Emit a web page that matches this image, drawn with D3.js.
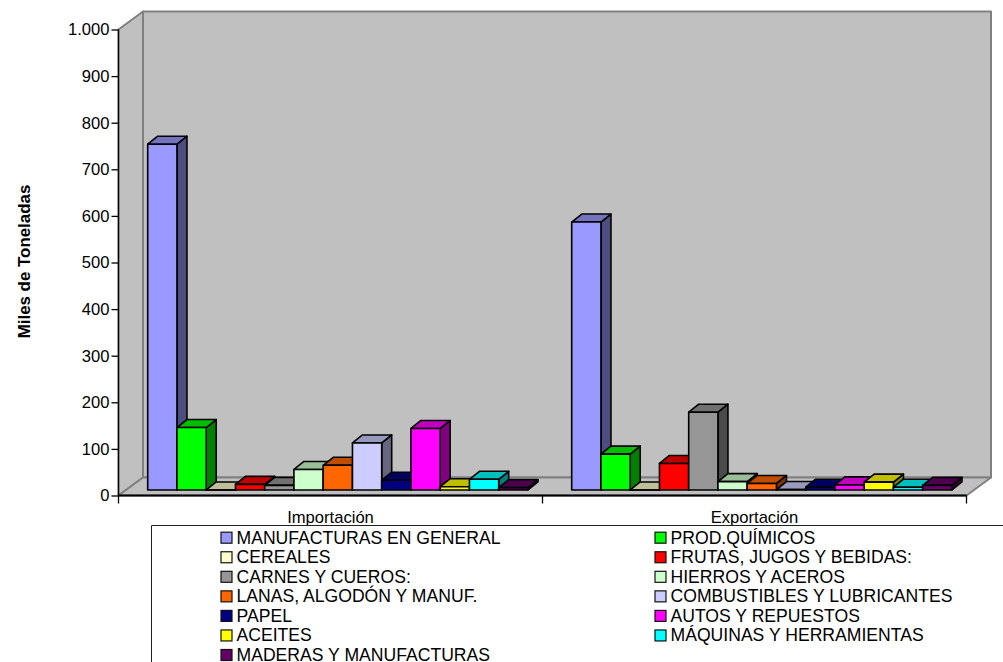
<!DOCTYPE html>
<html><head><meta charset="utf-8">
<style>html,body{margin:0;padding:0;background:#fff}svg{display:block}text{font-family:"Liberation Sans",Arial,sans-serif;fill:#000}</style>
<script src="https://d3js.org/d3.v7.min.js"></script></head><body><div id="c"></div>
<script>
const categories = ["Importación","Exportación"];
const seriesNames = ["MANUFACTURAS EN GENERAL","PROD.QUÍMICOS","CEREALES","FRUTAS, JUGOS Y BEBIDAS:","CARNES Y CUEROS:","HIERROS Y ACEROS","LANAS, ALGODÓN Y MANUF.","COMBUSTIBLES Y LUBRICANTES","PAPEL","AUTOS Y REPUESTOS","ACEITES","MÁQUINAS Y HERRAMIENTAS","MADERAS Y MANUFACTURAS"];
const colors = ["#9999ff","#00ff00","#ffffcc","#ff0000","#969696","#ccffcc","#ff6600","#ccccff","#000080","#ff00ff","#ffff00","#00ffff","#660066"];
const importacion = [742,134,0,12,10,44,53,101,21,132,7,23,5];
const exportacion = [575,77,0,57,167,18,14,1,6,11,17,6,10];
const tickValues = [0,100,200,300,400,500,600,700,800,900,1000];
const valuesByCategory = [importacion, exportacion];

const W=1003,H=662;
const depth={x:24.5,y:18}, barDepth={x:10,y:8};
const x0=d3.scaleBand().domain(categories).range([118.5,966.5]);
const y=d3.scaleLinear().domain([0,1000]).range([495.5,29.5]);
const baseY=490;
const barStart=29.2, barW=29.25;
const x1=d3.scaleBand().domain(seriesNames).range([barStart,barStart+barW*seriesNames.length]);
const shade=(c,k)=>{const r=d3.rgb(c);return d3.rgb(r.r*k,r.g*k,r.b*k).formatHex();};

const svg=d3.select("#c").append("svg").attr("width",W).attr("height",H);
const poly=(pts,fill,stroke,sw)=>svg.append("polygon").attr("points",pts.map(p=>p.join(",")).join(" ")).attr("fill",fill).attr("stroke",stroke).attr("stroke-width",sw).attr("stroke-linejoin","round");

const xl=x0.range()[0], xr=x0.range()[1], yb=y(0), yt=y(1000);
// walls and floor
poly([[xl+depth.x,yt-depth.y],[xr+depth.x,yt-depth.y],[xr+depth.x,yb-depth.y],[xl+depth.x,yb-depth.y]],"#c0c0c0","#808080",2);
poly([[xl,yt],[xl+depth.x,yt-depth.y],[xl+depth.x,yb-depth.y],[xl,yb]],"#c0c0c0","#808080",2);
poly([[xl,yb],[xl+depth.x,yb-depth.y],[xr+depth.x,yb-depth.y],[xr,yb]],"#c0c0c0","#808080",2);

// bars
categories.forEach((cat,ci)=>{
  seriesNames.forEach((s,si)=>{
    const v=valuesByCategory[ci][si];
    const l=x0(cat)+x1(s), r=l+x1.bandwidth();
    const h=yb-y(v), t=baseY-h, b=baseY;
    const dx=barDepth.x, dy=barDepth.y, c=colors[si];
    const sw=1.6;
    poly([[r,t],[r+dx,t-dy],[r+dx,b-dy],[r,b]],shade(c,.5),"#000",sw);
    poly([[l,t],[l+dx,t-dy],[r+dx,t-dy],[r,t]],shade(c,.75),"#000",sw);
    poly([[l,t],[r,t],[r,b],[l,b]],c,"#000",sw);
  });
});

// axes
const ay=svg.append("g").attr("transform",`translate(${xl},0)`).call(
  d3.axisLeft(y).tickValues(tickValues).tickSize(7).tickPadding(2).tickFormat(d=>d3.format(",")(d).replace(",","."))
);
ay.selectAll("path,line").attr("stroke","#000").attr("stroke-width",1.3);
ay.select("path").attr("d",`M0,${yt}V${yb}`);
ay.selectAll("text").attr("font-size",16.6).style("font-family",'"Liberation Sans",Arial,sans-serif');

const ax=svg.append("g").attr("transform",`translate(0,${yb})`).call(
  d3.axisBottom(x0).tickSize(0).tickPadding(0)
);
ax.select("path").attr("d",`M${xl},0H${xr}`).attr("stroke","#000").attr("stroke-width",2);
ax.selectAll("text").attr("font-size",16.6).attr("dy",0).attr("y",27.8).style("font-family",'"Liberation Sans",Arial,sans-serif');
x0.domain().map((d,i)=>xl+i*x0.step()).concat([xr]).forEach(px=>{
  svg.append("line").attr("x1",px).attr("x2",px).attr("y1",yb).attr("y2",yb+8).attr("stroke","#000").attr("stroke-width",1.3);
});

// y title
svg.append("text").attr("transform","translate(30,261.5) rotate(-90)").attr("text-anchor","middle").attr("font-size",16.9).attr("font-weight","bold").text("Miles de Toneladas");

// legend
svg.append("path").attr("d",`M151.5,${H+2}V525.5H${W+2}`).attr("fill","none").attr("stroke","#222").attr("stroke-width",1);
const colX=[220.5,654.5], rowY=d3.scaleLinear().domain([0,6]).range([537.7,655]);
seriesNames.forEach((s,i)=>{
  const col=i%2,row=Math.floor(i/2);
  const g=svg.append("g").attr("transform",`translate(${colX[col]},${rowY(row)})`);
  g.append("rect").attr("x",0.5).attr("y",-5.5).attr("width",11).attr("height",11).attr("fill",colors[i]).attr("stroke","#111").attr("stroke-width",1.2);
  g.append("text").attr("x",16).attr("y",6).attr("font-size",17.6).text(s);
});
</script></body></html>
